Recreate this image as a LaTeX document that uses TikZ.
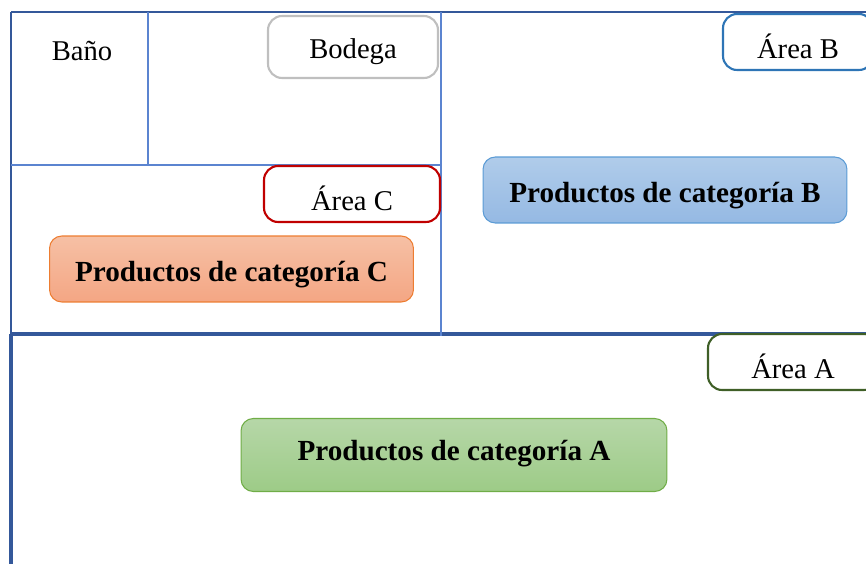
\documentclass[tikz,border=0pt]{standalone}
\usepackage{fontspec}
\setmainfont{Liberation Serif}
\usetikzlibrary{positioning}

\definecolor{muro}{HTML}{34589A}
\definecolor{tabique}{HTML}{5B84D0}
\definecolor{grisB}{HTML}{BFBFBF}
\definecolor{azulB}{HTML}{2E75B6}
\definecolor{rojoC}{HTML}{C00000}
\definecolor{verdeA}{HTML}{3F5F27}

\begin{document}
\begin{tikzpicture}[x=0.02cm,y=-0.02cm,
    rotulo/.style={rounded corners=8pt,line width=1.2pt,fill=white,
        font=\fontsize{16.3}{19}\selectfont,
        text height=0.7cm,text depth=0.02cm},
    zona/.style={rounded corners=7pt,line width=0.6pt,
        font=\fontsize{16.6}{19}\selectfont\bfseries,
        minimum width=7.28cm,minimum height=1.32cm,
        text height=0.56cm,text depth=0.04cm}]
    \useasboundingbox (0,0) rectangle (866,564);
    % muros exteriores
    \draw[muro,line width=1.5pt] (11,12) -- (866,12);
    \draw[muro,line width=1.8pt] (11,334) -- (866,334);
    \draw[muro,line width=1.7pt] (11,12) -- (11,334);
    \draw[muro,line width=2.1pt] (11,334) -- (11,564);
    % tabiques
    \foreach \a/\b in {441/12,11/165,148/12}
    {
        \ifnum\a=11
            \draw[tabique,line width=0.6pt] (\a,\b) -- (441,\b);
        \else
            \draw[tabique,line width=0.6pt] (\a,\b) -- (\a,\ifnum\a=441 336\else 165\fi);
        \fi
    }
    \node (bano) at (82,48) [font=\fontsize{16.3}{19}\selectfont,text height=0.56cm,text depth=0.04cm] {Baño};
    \node (bodega) at (353,47) [rotulo,draw=grisB,minimum width=3.4cm,minimum height=1.24cm,
        text height=0.5cm,text depth=0.04cm] {Bodega};
    \node (areaB) at (798,42) [rotulo,draw=azulB,minimum width=3cm,minimum height=1.12cm] {Área B};
    \node (areaC) at (352,194) [rotulo,draw=rojoC,minimum width=3.52cm,minimum height=1.12cm] {Área C};
    \node (areaA) at (793,362) [rotulo,draw=verdeA,minimum width=3.4cm,minimum height=1.12cm] {Área A};
    \node (prodC) at (231.5,269) [zona,draw={rgb,255:red,237;green,125;blue,49},
        top color={rgb,255:red,246;green,192;blue,165},bottom color={rgb,255:red,244;green,166;blue,132}]
        {Productos de categoría C};
    \node (prodB) at (665,190) [zona,draw={rgb,255:red,91;green,155;blue,213},
        top color={rgb,255:red,176;green,204;blue,234},bottom color={rgb,255:red,149;green,185;blue,227}]
        {Productos de categoría B};
    \node (prodA) at (454,455) [zona,minimum width=8.52cm,minimum height=1.46cm,
        text height=0.44cm,text depth=0.2cm,draw={rgb,255:red,112;green,173;blue,71},
        top color={rgb,255:red,182;green,215;blue,168},bottom color={rgb,255:red,157;green,203;blue,135}]
        {Productos de categoría A};
\end{tikzpicture}
\end{document}
